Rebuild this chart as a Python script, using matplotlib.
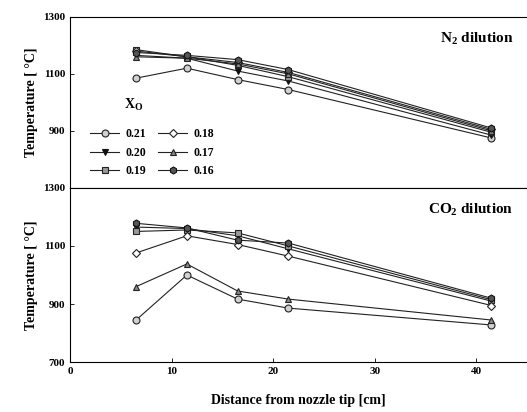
import matplotlib
matplotlib.use("Agg")
import matplotlib.pyplot as plt

plt.rcParams['font.family'] = ['Liberation Serif', 'DejaVu Serif']
plt.rcParams['font.weight'] = 'bold'
plt.rcParams['mathtext.fontset'] = 'custom'
plt.rcParams['mathtext.rm'] = 'Liberation Serif:bold'
plt.rcParams['mathtext.bf'] = 'Liberation Serif:bold'
plt.rcParams['mathtext.it'] = 'Liberation Serif:bold'
plt.rcParams['mathtext.default'] = 'bf'

dist = [6.5, 11.5, 16.5, 21.5, 41.5]
labels = ['0.21', '0.20', '0.19', '0.18', '0.17', '0.16']

# N2 dilution
n2_021 = [1085, 1120, 1080, 1045, 875]
n2_020 = [1165, 1155, 1110, 1075, 885]
n2_019 = [1185, 1160, 1130, 1090, 895]
n2_018 = [1180, 1160, 1140, 1105, 905]
n2_017 = [1160, 1155, 1135, 1100, 900]
n2_016 = [1175, 1165, 1150, 1115, 910]

# CO2 dilution
co2_021 = [845, 1000, 917, 886, 828]
co2_020 = [1165, 1160, 1135, 1090, 910]
co2_019 = [1150, 1155, 1145, 1100, 915]
co2_018 = [1076, 1135, 1105, 1065, 895]
co2_017 = [960, 1038, 945, 917, 845]
co2_016 = [1178, 1162, 1120, 1110, 920]

styles = [
    dict(marker='o', mfc='#d0d0d0', mec='#222222'),
    dict(marker='v', mfc='#111111', mec='#111111'),
    dict(marker='s', mfc='#999999', mec='#222222'),
    dict(marker='D', mfc='white', mec='#222222', ms=4.5),
    dict(marker='^', mfc='#888888', mec='#222222'),
    dict(marker='h', mfc='#555555', mec='#111111'),
]

fig = plt.figure(figsize=(5.27, 4.12), dpi=100)
ax1 = fig.add_axes([0.133, 0.544, 0.867, 0.415])
ax2 = fig.add_axes([0.133, 0.121, 0.867, 0.423])

n2 = [n2_021, n2_020, n2_019, n2_018, n2_017, n2_016]
co2 = [co2_021, co2_020, co2_019, co2_018, co2_017, co2_016]

for ax, data in [(ax1, n2), (ax2, co2)]:
    for lab, y, st in zip(labels, data, styles):
        kw = dict(ms=5, mew=0.8)
        kw.update(st)
        ax.plot(dist, y, color='#222222', lw=0.8, label=lab, **kw)
    ax.set_xlim(0, 45)
    ax.set_ylim(700, 1300)
    ax.set_yticks([700, 900, 1100, 1300])
    ax.set_ylabel('Temperature [ °C]', fontsize=10, fontweight='bold')
    ax.tick_params(direction='in', labelsize=8, length=3, width=0.6)
    ax.spines['right'].set_visible(False)
    for s in ['left', 'bottom', 'top']:
        ax.spines[s].set_linewidth(0.8)

ax1.set_yticks([900, 1100, 1300])
ax1.set_xticks([])
ax2.set_xticks([0, 10, 20, 30, 40])
ax2.set_xlabel('Distance from nozzle tip [cm]', fontsize=10, fontweight='bold', labelpad=13)

ax1.text(0.97, 0.85, 'N$_2$ dilution', transform=ax1.transAxes, ha='right',
         fontsize=11, fontweight='bold')
ax2.text(0.97, 0.85, 'CO$_2$ dilution', transform=ax2.transAxes, ha='right',
         fontsize=11, fontweight='bold')

ax1.text(0.14, 0.46, 'X$_O$', transform=ax1.transAxes, ha='center',
         fontsize=10, fontweight='bold')
ax1.legend(ncol=2, loc='lower left', bbox_to_anchor=(0.02, 0.0),
           frameon=False, fontsize=8.5, handlelength=2.5, labelspacing=0.55,
           columnspacing=1.0, handletextpad=0.5)

fig.savefig('out.png', dpi=100)
